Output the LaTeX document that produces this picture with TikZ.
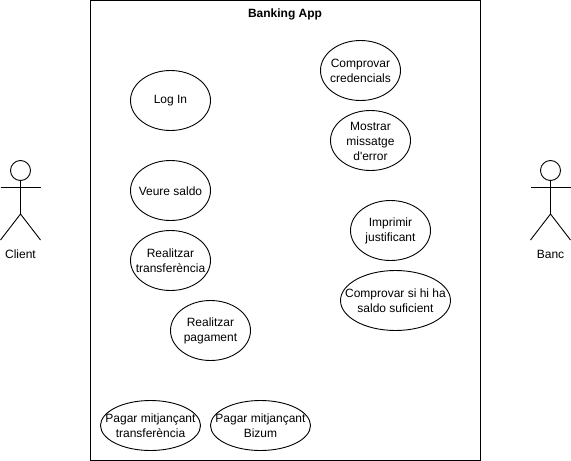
\documentclass[tikz,border=0pt]{standalone}
\usepackage{fontspec}
\newfontfamily\appfont{Liberation Sans}
\usetikzlibrary{shapes.geometric}
\tikzset{
  x=1pt,y=-1pt,
  base/.style={font=\appfont\fontsize{12}{15}\selectfont},
  uc/.style={ellipse,draw=black,line width=0.9pt,inner sep=0pt,outer sep=0pt,fill=white,minimum width=80pt,minimum height=60pt,label={[base,align=center,inner sep=0pt,yshift=-0.6pt]center:#1}},
  ucw/.style={uc={#1},minimum width=110pt},
  ucs/.style={uc={#1},minimum width=100pt,minimum height=50pt},
  limb/.style={draw=black,line width=0.9pt},
  actorname/.style={base,inner sep=0pt},
  sys/.style={draw=black,line width=0.9pt,minimum width=390pt,minimum height=460pt,inner sep=0pt,outer sep=0pt,anchor=north west},
  syslabel/.style={font=\appfont\fontsize{12}{14}\selectfont\bfseries,inner sep=0pt},
  head/.style={circle,draw=black,line width=0.9pt,minimum size=20pt,inner sep=0pt,outer sep=0pt},
}
\begin{document}
\begin{tikzpicture}
\useasboundingbox (0,0) rectangle (571,461);
\node[sys] (box) at (90.5,0.5) {};
\node[syslabel] (title) at (285,14) {Banking App};
\node[uc={Log In}] (login) at (170.5,100.5) {};
\node[uc={Comprovar\\credencials}] (cred) at (360.5,70.5) {};
\node[uc={Mostrar\\missatge\\d'error}] (err) at (370.5,140.5) {};
\node[uc={Veure saldo}] (saldo) at (170.5,190.5) {};
\node[uc={Realitzar\\transferència}] (transf) at (170.5,260.5) {};
\node[uc={Imprimir\\justificant}] (just) at (390.5,230.5) {};
\node[ucw={Comprovar si hi ha\\saldo suficient}] (check) at (395.5,300.5) {};
\node[uc={Realitzar\\pagament}] (pag) at (210.5,330.5) {};
\node[ucs={Pagar mitjançant\\transferència}] (ptransf) at (150.5,425.5) {};
\node[ucs={Pagar mitjançant\\Bizum}] (pbiz) at (260.5,425.5) {};
% Client actor
\node[head] (chead) at (20.5,170.5) {};
\coordinate (chip) at (20.5,214);
\coordinate (csl) at (0.5,187);
\coordinate (csr) at (40.5,187);
\coordinate (cfl) at (0.5,240);
\coordinate (cfr) at (40.5,240);
\draw[limb] (chead.south) -- (chip);
\draw[limb] (csl) -- (csr);
\draw[limb] (cfl) -- (chip) -- (cfr);
\node[actorname] (client) at (20.5,254.5) {Client};
% Banc actor
\node[head] (bhead) at (550.5,170.5) {};
\coordinate (bhip) at (550.5,214);
\coordinate (bsl) at (530.5,187);
\coordinate (bsr) at (570.5,187);
\coordinate (bfl) at (530.5,240);
\coordinate (bfr) at (570.5,240);
\draw[limb] (bhead.south) -- (bhip);
\draw[limb] (bsl) -- (bsr);
\draw[limb] (bfl) -- (bhip) -- (bfr);
\node[actorname] (banc) at (550.5,254.5) {Banc};
\end{tikzpicture}
\end{document}
